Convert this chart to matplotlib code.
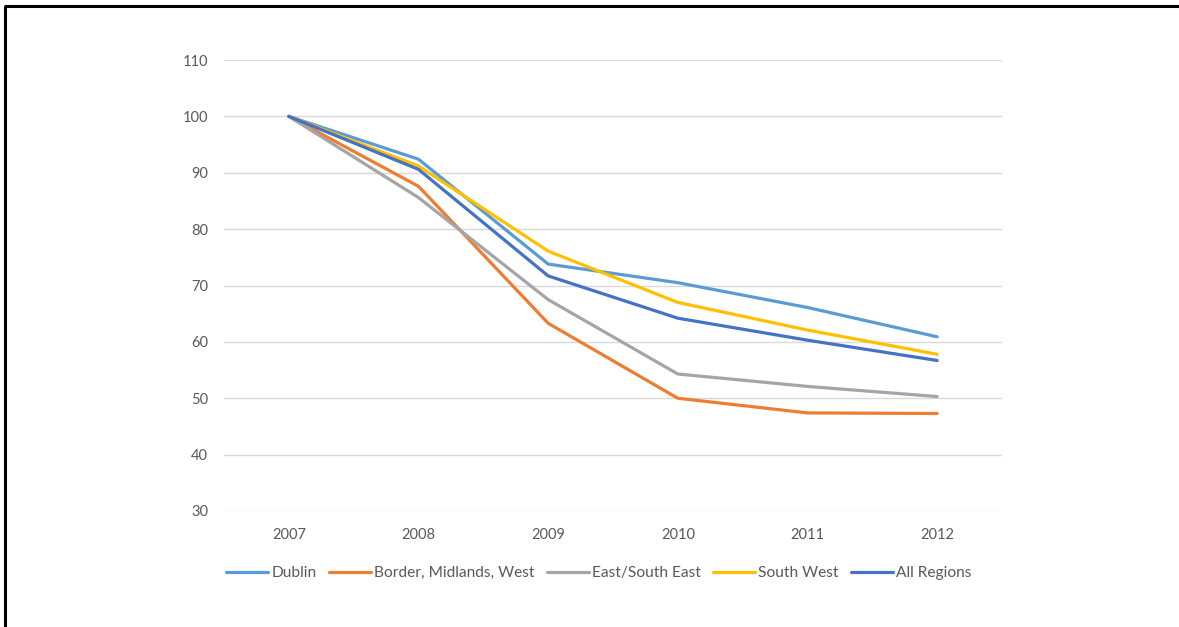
import matplotlib.pyplot as plt
from matplotlib.lines import Line2D

years = ["2007", "2008", "2009", "2010", "2011", "2012"]
dublin = [100, 92.4, 73.8, 70.5, 66.1, 60.9]
bmw = [100, 87.6, 63.3, 50.0, 47.4, 47.3]
east_se = [100, 85.6, 67.5, 54.3, 52.1, 50.3]
south_west = [100, 91.2, 76.1, 67.0, 62.1, 57.8]
all_regions = [100, 90.6, 71.7, 64.2, 60.3, 56.7]

series = [
    ("Dublin", dublin, "#5B9BD5"),
    ("Border, Midlands, West", bmw, "#ED7D31"),
    ("East/South East", east_se, "#A5A5A5"),
    ("South West", south_west, "#FFC000"),
    ("All Regions", all_regions, "#4472C4"),
]

plt.rcParams['font.family'] = ['Lato', 'DejaVu Sans']

W, H = 1179, 627
fig = plt.figure(figsize=(W / 100, H / 100), dpi=100)
ax = fig.add_axes([224 / W, 1 - 511 / H, (1002 - 224) / W, (511 - 60) / H])

x = range(len(years))
for name, vals, col in series:
    ax.plot(x, vals, color=col, lw=2.3, label=name,
            solid_capstyle='round', solid_joinstyle='round')

ax.set_xlim(-0.5, len(years) - 0.5)
ax.set_ylim(30, 110)
ax.set_yticks(range(30, 111, 10))
ax.set_xticks(list(x))
ax.set_xticklabels(years)
ax.grid(axis='y', color='#D9D9D9', lw=1)
ax.set_axisbelow(True)
for s in ax.spines.values():
    s.set_visible(False)
ax.tick_params(length=0, labelsize=10.5, colors='#595959')
ax.tick_params(axis='y', pad=11.5)
ax.tick_params(axis='x', pad=12)

fig.legend(loc='center', bbox_to_anchor=(599 / W, 1 - 573 / H), ncol=5,
           frameon=False, fontsize=11.2, handlelength=2.7, handletextpad=0.2,
           columnspacing=0.8, labelcolor='#595959')

# outer frame lines (left and top)
fig.add_artist(Line2D([5 / W, 5 / W], [0, 1 - 6 / H], color='black', lw=2.2,
                      solid_capstyle='butt', transform=fig.transFigure))
fig.add_artist(Line2D([4 / W, 1.0], [1 - 6 / H, 1 - 6 / H], color='black', lw=2.2,
                      solid_capstyle='butt', transform=fig.transFigure))

fig.savefig('out.png', dpi=100)
